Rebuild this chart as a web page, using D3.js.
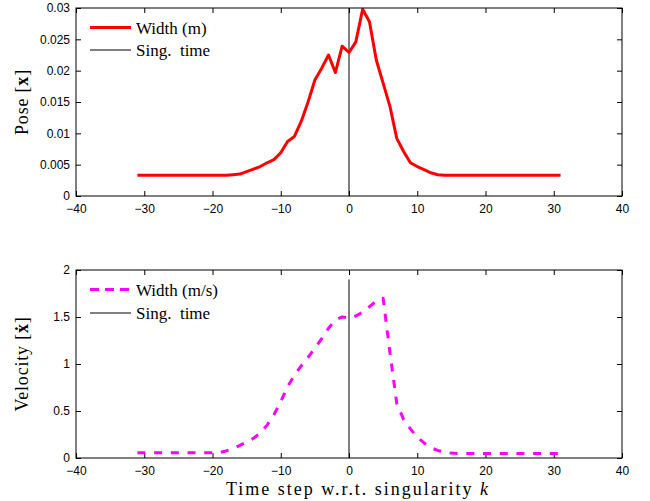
<!DOCTYPE html>
<html>
<head>
<meta charset="utf-8">
<script src="https://cdn.jsdelivr.net/npm/d3@7"></script>
<style>
  html, body { margin: 0; padding: 0; background: #fff; }
  svg { display: block; }
  .tick text { font-family: "Liberation Sans", Arial, sans-serif; font-size: 12px; fill: #000; }
  .serif { font-family: "Liberation Serif", "Times New Roman", serif; fill: #000; }
</style>
</head>
<body>
<svg id="chart" width="650" height="501"></svg>
<script>
// ---- data ----
const timeSteps = [-31,-30,-29,-28,-27,-26,-25,-24,-23,-22,-21,-20,-19,-18,-17,-16,-15,-14,-13,-12,-11,-10,-9,-8,-7,-6,-5,-4,-3,-2,-1,0,1,2,3,4,5,6,7,8,9,10,11,12,13,14,15,16,17,18,19,20,21,22,23,24,25,26,27,28,29,30,31];
const poseWidth = [0.0033,0.0033,0.0033,0.0033,0.0033,0.0033,0.0033,0.0033,0.0033,0.0033,0.0033,0.0033,0.0033,0.0033,
  0.0034,0.0035,0.0039,0.0043,0.0047,0.0053,0.0058,0.0069,0.0087,0.0095,0.0119,0.0150,0.0185,0.0204,0.0225,0.0197,0.0239,
  0.0229,0.0246,0.0298,0.0278,0.0217,0.0180,0.0143,0.0092,0.0071,0.0053,0.0047,0.0042,0.0037,0.0034,
  0.0033,0.0033,0.0033,0.0033,0.0033,0.0033,0.0033,0.0033,0.0033,0.0033,0.0033,0.0033,0.0033,0.0033,0.0033,0.0033,0.0033,0.0033];
const velocityWidth = [0.055,0.055,0.055,0.055,0.055,0.055,0.055,0.055,0.055,0.055,0.055,0.055,
  0.058,0.075,0.10,0.135,0.17,0.21,0.265,0.35,0.46,0.60,0.76,0.88,0.98,1.07,1.17,1.27,1.38,1.47,1.50,
  1.49,1.51,1.55,1.61,1.67,1.70,1.12,0.58,0.41,0.31,0.22,0.16,0.11,0.08,0.062,0.052,
  0.048,0.048,0.048,0.048,0.048,0.048,0.048,0.048,0.048,0.048,0.048,0.048,0.048,0.048,0.048,0.048];
const xTicks = [-40,-30,-20,-10,0,10,20,30,40];
const poseTicks = [0,0.005,0.01,0.015,0.02,0.025,0.03];
const poseTickLabels = ["0","0.005","0.01","0.015","0.02","0.025","0.03"];
const velTicks = [0,0.5,1,1.5,2];
const velTickLabels = ["0","0.5","1","1.5","2"];
const singularityStep = 0;
const poseSingRange = [0, 0.03];
const velSingRange = [0, 1.9];
const xDomain = [-40, 40];

const svg = d3.select("#chart");
const L = 76, R = 622;

function panel(opts) {
  const g = svg.append("g");
  const x = d3.scaleLinear().domain(xDomain).range([L, R]);
  const y = d3.scaleLinear().domain(opts.yDomain).range([opts.bottom, opts.top]);

  const fmtY = (d) => opts.yLabels[opts.yTicks.indexOf(d)];
  const ax = [
    g.append("g").attr("transform", `translate(0,${opts.bottom})`)
      .call(d3.axisBottom(x).tickValues(xTicks).tickSizeInner(-5).tickSizeOuter(0).tickPadding(8)),
    g.append("g").attr("transform", `translate(0,${opts.top})`)
      .call(d3.axisTop(x).tickValues(xTicks).tickSizeInner(-5).tickSizeOuter(0).tickFormat("")),
    g.append("g").attr("transform", `translate(${L},0)`)
      .call(d3.axisLeft(y).tickValues(opts.yTicks).tickFormat(fmtY).tickSizeInner(-5).tickSizeOuter(0).tickPadding(6)),
    g.append("g").attr("transform", `translate(${R},0)`)
      .call(d3.axisRight(y).tickValues(opts.yTicks).tickSizeInner(-5).tickSizeOuter(0).tickFormat(""))
  ];
  ax.forEach(a => { a.select(".domain").remove(); a.selectAll(".tick line").attr("stroke", "#000"); });

  g.append("line")
    .attr("x1", x(singularityStep)).attr("x2", x(singularityStep))
    .attr("y1", y(opts.singRange[0])).attr("y2", y(opts.singRange[1]))
    .attr("stroke", "#000").attr("stroke-width", 1);

  const line = d3.line().x((d, i) => x(timeSteps[i])).y(d => y(d));
  g.append("path").datum(opts.values)
    .attr("d", line).attr("fill", "none")
    .attr("stroke", opts.color).attr("stroke-width", 3)
    .attr("stroke-dasharray", opts.dash || null)
    .attr("stroke-linejoin", "round");

  g.append("rect").attr("x", L).attr("y", opts.top)
    .attr("width", R - L).attr("height", opts.bottom - opts.top)
    .attr("fill", "none").attr("stroke", "#000").attr("stroke-width", 1);

  const lg = g.append("g");
  lg.append("line").attr("x1", 90).attr("x2", 131).attr("y1", opts.legY1).attr("y2", opts.legY1)
    .attr("stroke", opts.color).attr("stroke-width", 3).attr("stroke-dasharray", opts.legDash || null);
  lg.append("text").attr("class", "serif").attr("x", 136).attr("y", opts.legY1 + 6)
    .attr("font-size", 17).text(opts.legText);
  lg.append("line").attr("x1", 90).attr("x2", 131).attr("y1", opts.legY2).attr("y2", opts.legY2)
    .attr("stroke", "#000").attr("stroke-width", 1);
  lg.append("text").attr("class", "serif").attr("x", 136).attr("y", opts.legY2 + 6)
    .attr("font-size", 17).text("Sing.\u00a0 time");

  const yl = g.append("text").attr("class", "serif")
    .attr("transform", `translate(28,${(opts.top + opts.bottom) / 2}) rotate(-90)`)
    .attr("text-anchor", "middle").attr("font-size", 18)
    .attr("letter-spacing", 0.8);
  yl.append("tspan").text(opts.yTitle + " [");
  yl.append("tspan").attr("font-weight", "bold").text(opts.yBold);
  yl.append("tspan").text("]");
  return { x, y };
}

panel({ top: 8, bottom: 196, yDomain: [0, 0.03], yTicks: poseTicks, yLabels: poseTickLabels,
  values: poseWidth, color: "#ff0000", singRange: poseSingRange,
  legY1: 27.5, legY2: 50, legText: "Width (m)", yTitle: "Pose", yBold: "x" });

panel({ top: 270, bottom: 458, yDomain: [0, 2], yTicks: velTicks, yLabels: velTickLabels,
  values: velocityWidth, color: "#ff00ff", dash: "8,8.7", legDash: "9,6", singRange: velSingRange,
  legY1: 289.5, legY2: 313, legText: "Width (m/s)", yTitle: "Velocity", yBold: "\u1E8B" });

const xl = svg.append("text").attr("class", "serif")
  .attr("x", 226).attr("y", 495).attr("font-size", 18)
  .attr("textLength", 262).attr("lengthAdjust", "spacing");
xl.append("tspan").text("Time step w.r.t. singularity ");
xl.append("tspan").attr("font-style", "italic").text("k");
</script>
</body>
</html>
